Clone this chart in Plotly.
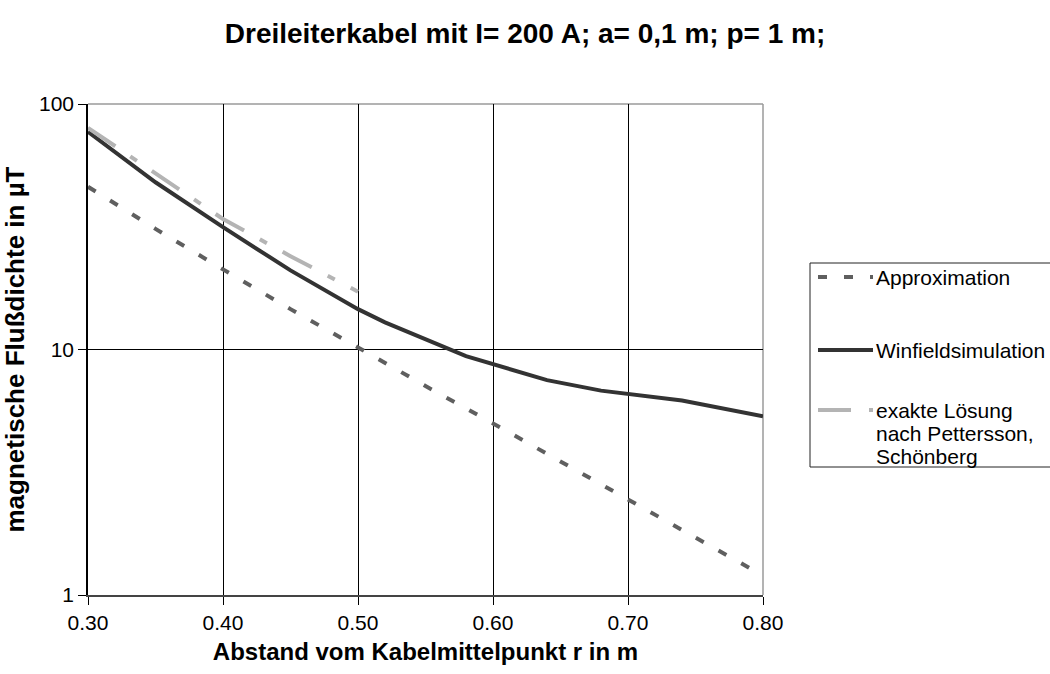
import plotly.graph_objects as go

# Abstand r in m
r_approx = [0.30, 0.35, 0.40, 0.45, 0.50, 0.55, 0.60, 0.65, 0.70, 0.75, 0.80]
b_approx = [46.0, 31.0, 21.2, 14.6, 10.2, 7.1, 5.0, 3.5, 2.45, 1.72, 1.2]

r_winfield = [0.30, 0.35, 0.40, 0.45, 0.50, 0.52, 0.58, 0.62, 0.64, 0.68, 0.70, 0.74, 0.80]
b_winfield = [77.0, 48.0, 31.5, 21.0, 14.6, 12.9, 9.4, 8.1, 7.5, 6.8, 6.6, 6.2, 5.35]

r_exakt = [0.30, 0.35, 0.40, 0.45, 0.50]
b_exakt = [80.0, 52.0, 34.0, 24.0, 17.2]

x_ticks = [0.3, 0.4, 0.5, 0.6, 0.7, 0.8]
x_ticklabels = ["0.30", "0.40", "0.50", "0.60", "0.70", "0.80"]
y_ticks = [1, 10, 100]
y_ticklabels = ["1", "10", "100"]

series_names = ["Approximation", "Winfieldsimulation",
                "exakte Lösung", "nach Pettersson,", "Schönberg"]

FONT = "Arial, 'Liberation Sans', sans-serif"

styles = [
    dict(color="#5f5f5f", width=4, dash="9px,17px"),
    dict(color="#333333", width=4),
    dict(color="#b4b4b4", width=4, dash="33px,18px,8px,18px"),
]

# plot box in pixels (figure 1050 x 674)
L, R, T, B = 88, 763, 104, 595


def px_x(p):
    return (p - L) / (R - L)


def px_y(p):
    return (B - p) / (B - T)


fig = go.Figure()
fig.add_trace(go.Scatter(x=r_approx, y=b_approx, mode="lines",
                         name=series_names[0], line=styles[0]))
fig.add_trace(go.Scatter(x=r_winfield, y=b_winfield, mode="lines",
                         name=series_names[1], line=styles[1]))
fig.add_trace(go.Scatter(x=r_exakt, y=b_exakt, mode="lines",
                         name=" ".join(series_names[2:]), line=styles[2]))

# grey frame on top and right side of the plot area
fig.add_shape(type="line", xref="paper", yref="paper", x0=0, x1=1, y0=1, y1=1,
              line=dict(color="#9a9a9a", width=1.5), layer="below")
fig.add_shape(type="line", xref="paper", yref="paper", x0=1, x1=1, y0=0, y1=1,
              line=dict(color="#9a9a9a", width=1.5), layer="below")

# legend box with line samples and labels
fig.add_shape(type="rect", xref="paper", yref="paper",
              x0=px_x(810), x1=px_x(1060), y0=px_y(467), y1=px_y(263),
              line=dict(color="#222222", width=1), fillcolor="white")
sample_rows = [277, 350, 410]
for style, yc in zip(styles, sample_rows):
    fig.add_shape(type="line", xref="paper", yref="paper",
                  x0=px_x(818), x1=px_x(873), y0=px_y(yc), y1=px_y(yc),
                  line=style)
text_rows = [277, 350, 410, 433, 456]
for name, yc in zip(series_names, text_rows):
    fig.add_annotation(text=name, xref="paper", yref="paper",
                       x=px_x(874), y=px_y(yc), xanchor="left", yanchor="middle",
                       showarrow=False, font=dict(size=21))

fig.update_layout(
    width=1050, height=674,
    margin=dict(l=L, r=1050 - R, t=T, b=674 - B, autoexpand=False),
    paper_bgcolor="white", plot_bgcolor="white",
    font=dict(family=FONT, size=21, color="black"),
    title=dict(text="<b>Dreileiterkabel mit I= 200 A; a= 0,1 m; p= 1 m;</b>",
               x=0.5, xanchor="center", y=1 - 33 / 674, yanchor="middle",
               font=dict(size=28)),
    showlegend=False,
)
fig.update_xaxes(
    range=[0.3, 0.8], tickvals=x_ticks, ticktext=x_ticklabels,
    showgrid=True, gridcolor="black", gridwidth=1,
    showline=True, linecolor="#444444", linewidth=1.5,
    ticks="outside", ticklen=8, tickcolor="black",
    zeroline=False,
    title=dict(text="<b>Abstand vom Kabelmittelpunkt r in m</b>", standoff=10,
               font=dict(size=24)),
)
fig.update_yaxes(
    type="log", range=[0, 2], tickvals=y_ticks, ticktext=y_ticklabels,
    showgrid=True, gridcolor="black", gridwidth=1,
    showline=True, linecolor="black", linewidth=1.5,
    ticks="outside", ticklen=8, tickcolor="black",
    zeroline=False,
    title=dict(text="<b>magnetische Flußdichte in µT</b>", standoff=12,
               font=dict(size=26)),
)

fig.write_html("out.html")
